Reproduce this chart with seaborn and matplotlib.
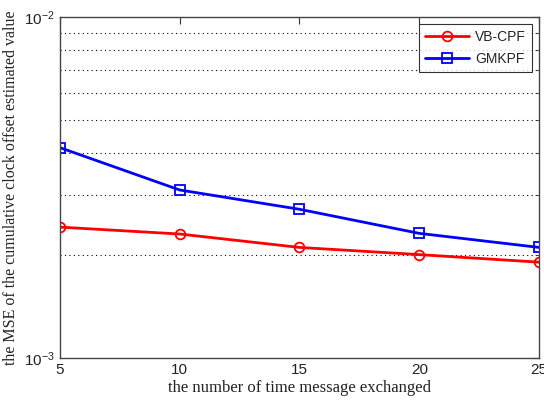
import matplotlib
matplotlib.use("Agg")
import matplotlib.pyplot as plt
import matplotlib.ticker as mticker
import seaborn as sns
import pandas as pd
import numpy as np

x_vals = [5, 10, 15, 20, 25]
vbcpf = [2.42e-3, 2.31e-3, 2.11e-3, 2.01e-3, 1.91e-3]
gmkpf = [4.14e-3, 3.11e-3, 2.73e-3, 2.32e-3, 2.11e-3]
series_names = ["VB-CPF", "GMKPF"]

df = pd.DataFrame({
    "x": x_vals * 2,
    "y": vbcpf + gmkpf,
    "method": [series_names[0]] * 5 + [series_names[1]] * 5,
})

sns.set_style("white")
plt.rcParams["font.family"] = ["Liberation Sans", "DejaVu Sans"]
plt.rcParams["mathtext.fontset"] = "custom"
plt.rcParams["mathtext.rm"] = "Liberation Sans"
plt.rcParams["mathtext.it"] = "Liberation Sans"

fig = plt.figure(figsize=(5.44, 4.0), dpi=100)
ax = fig.add_axes([0.110, 0.105, 0.881, 0.8525])

sns.lineplot(data=df, x="x", y="y", hue="method", style="method",
             palette={"VB-CPF": "#ff0000", "GMKPF": "#0000ff"},
             markers={"VB-CPF": "o", "GMKPF": "s"}, dashes=False,
             markersize=7, markerfacecolor="none", markeredgewidth=1.3,
             linewidth=2, ax=ax)
for line in ax.lines:
    line.set_markeredgecolor(line.get_color())
    line.set_markerfacecolor("none")

ax.set_yscale("log")
ax.set_ylim(1e-3, 1e-2)
ax.set_xlim(5, 25)
ax.set_xticks(x_vals)
ax.set_xticklabels([str(v) for v in x_vals])
ax.yaxis.set_major_locator(mticker.FixedLocator([1e-3, 1e-2]))
ax.yaxis.set_major_formatter(mticker.FixedFormatter([r"$10^{-3}$", r"$10^{-2}$"]))
ax.yaxis.set_minor_locator(mticker.FixedLocator([i * 1e-3 for i in range(2, 10)]))
ax.yaxis.set_minor_formatter(mticker.NullFormatter())
ax.grid(False)
ax.yaxis.grid(True, which="minor", linestyle=(0, (1, 3)), color="black", linewidth=0.8)

ax.tick_params(axis="both", which="both", direction="in", top=True, right=True,
               colors="#333333", labelcolor="#222222", labelsize=11)
ax.tick_params(which="major", length=5)
ax.tick_params(which="minor", length=3)
for s in ax.spines.values():
    s.set_color("#444444")
    s.set_linewidth(1.0)

ax.set_xlabel("the number of time message exchanged", family=["Liberation Serif"],
              fontsize=12, color="#222222", labelpad=2)
ax.set_ylabel("the MSE of the cumulative clock offset estimated value",
              family=["Liberation Serif"], fontsize=11.5, color="#222222", labelpad=4)

leg = ax.legend(loc="upper right", fontsize=10, frameon=True, fancybox=False,
                edgecolor="black", handlelength=3.2, handletextpad=0.4,
                borderpad=0.45, labelspacing=0.55, borderaxespad=0,
                bbox_to_anchor=(0.9855, 0.98))
leg.get_frame().set_linewidth(0.8)
for h in leg.get_lines():
    h.set_markerfacecolor("none")

fig.savefig("out.png", dpi=100)
